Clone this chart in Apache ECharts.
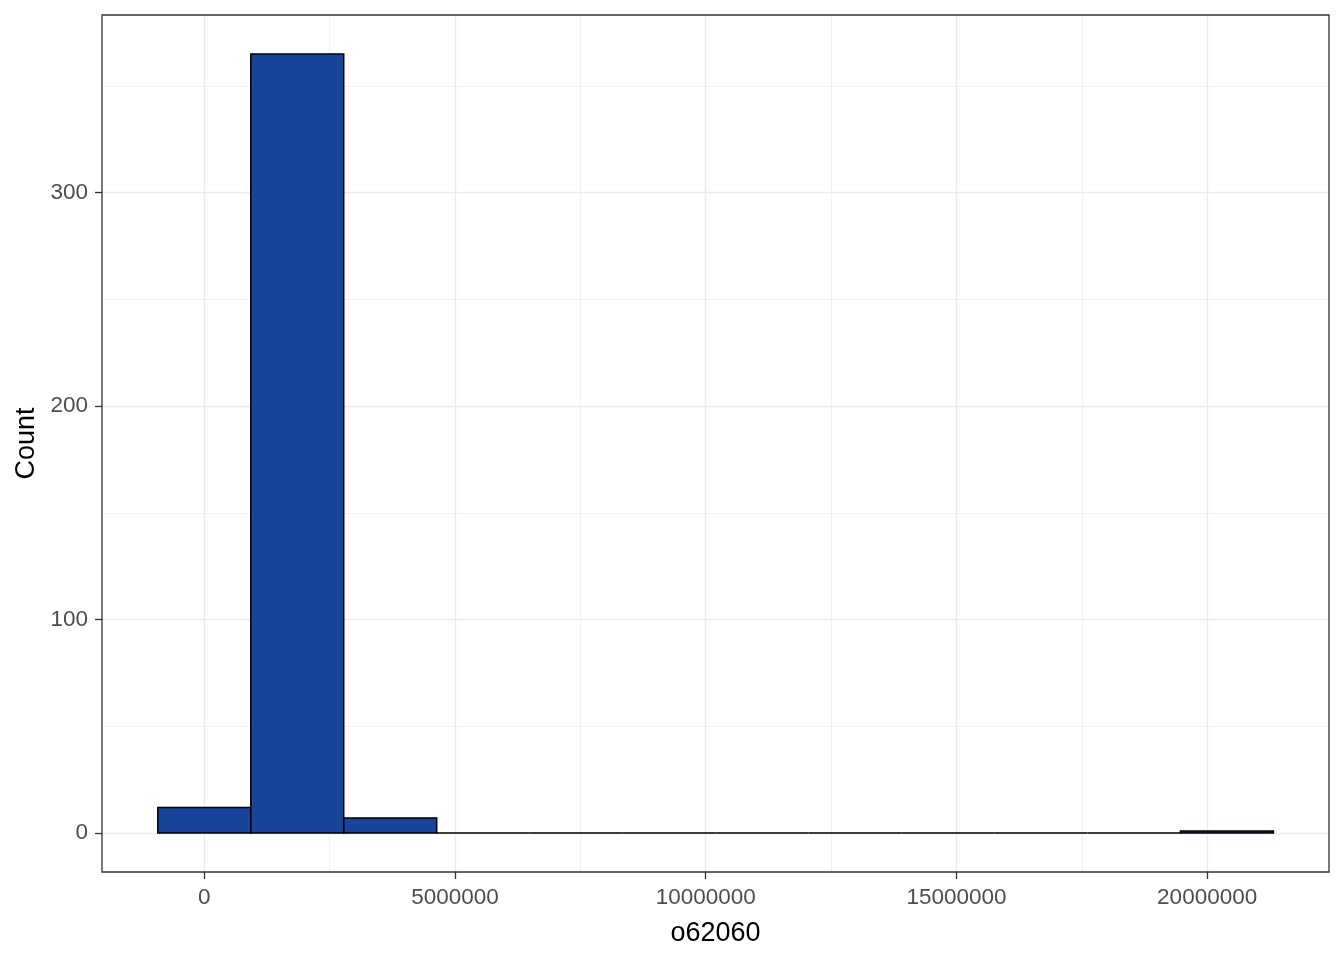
<!DOCTYPE html>
<html>
<head>
<meta charset="utf-8">
<script src="https://cdn.jsdelivr.net/npm/echarts@6/dist/echarts.min.js"></script>
<style>
html,body{margin:0;padding:0;background:#fff;}
#chart{width:1344px;height:960px;}
</style>
</head>
<body>
<div id="chart"></div>
<script>
// Histogram bins of o62060 (edges) and counts
const binEdges = [-927000, 927000, 2781000, 4635000, 6489000, 8343000, 10197000, 12051000, 13905000, 15759000, 17613000, 19467000, 21321000];
const counts = [12, 365, 7, 0, 0, 0, 0, 0, 0, 0, 0, 1];
const xTicks = [0, 5000000, 10000000, 15000000, 20000000];
const xMinorTicks = [2500000, 7500000, 12500000, 17500000];
const yTicks = [0, 100, 200, 300];
const yMinorTicks = [50, 150, 250, 350];
const xTitle = 'o62060';
const yTitle = 'Count';

const xMin = -2040000, xMax = 22430000;
const yMin = -18.25, yMax = 383.25;

const barData = counts.map((c, i) => [binEdges[i], binEdges[i + 1], c]);

const gridColor = '#EBEBEB';
function vLines(vals, w) {
  return vals.map(v => ({ xAxis: v, lineStyle: { color: gridColor, width: w, type: 'solid' } }));
}
function hLines(vals, w) {
  return vals.map(v => ({ yAxis: v, lineStyle: { color: gridColor, width: w, type: 'solid' } }));
}

const chart = echarts.init(document.getElementById('chart'), null, { renderer: 'canvas' });
const option = {
  animation: false,
  backgroundColor: '#ffffff',
  grid: { left: 102, right: 15, top: 15, bottom: 88, containLabel: false,
          show: true, borderColor: '#333333', borderWidth: 1.3, backgroundColor: 'transparent', z: 10 },
  xAxis: {
    type: 'value', min: xMin, max: xMax, position: 'bottom',
    name: xTitle, nameLocation: 'middle', nameGap: 48,
    nameTextStyle: { fontFamily: 'Liberation Sans, Arial', fontSize: 27, color: '#000' },
    axisLine: { show: false, onZero: false },
    axisTick: { show: true, customValues: xTicks, length: 7, lineStyle: { color: '#333', width: 1.3 } },
    axisLabel: { show: true, customValues: xTicks, margin: 14, fontFamily: 'Liberation Sans, Arial', fontSize: 22.5, color: '#4D4D4D',
                 formatter: v => String(v) },
    splitLine: { show: false }
  },
  yAxis: {
    type: 'value', min: yMin, max: yMax, position: 'left',
    name: yTitle, nameLocation: 'middle', nameGap: 60, nameRotate: 90,
    nameTextStyle: { fontFamily: 'Liberation Sans, Arial', fontSize: 27, color: '#000' },
    axisLine: { show: false, onZero: false },
    axisTick: { show: true, customValues: yTicks, length: 7, lineStyle: { color: '#333', width: 1.3 } },
    axisLabel: { show: true, customValues: yTicks, margin: 14, fontFamily: 'Liberation Sans, Arial', fontSize: 22.5, color: '#4D4D4D',
                 formatter: v => String(v) },
    splitLine: { show: false }
  },
  series: [
    {
      type: 'line', data: [], silent: true,
      markLine: {
        silent: true, symbol: 'none', label: { show: false }, animation: false,
        data: [].concat(vLines(xMinorTicks, 0.7), hLines(yMinorTicks, 0.7), vLines(xTicks, 1.4), hLines(yTicks, 1.4))
      }
    },
    {
      type: 'custom',
      data: barData,
      encode: { x: [0, 1], y: 2 },
      renderItem: function (params, api) {
        const p0 = api.coord([api.value(0), 0]);
        const p1 = api.coord([api.value(1), api.value(2)]);
        return {
          type: 'rect',
          shape: { x: p0[0], y: p1[1], width: p1[0] - p0[0], height: p0[1] - p1[1] },
          style: { fill: '#18449A', stroke: '#000000', lineWidth: 1.5 }
        };
      },
      z: 5
    }
  ]
};
chart.setOption(option);
</script>
</body>
</html>
